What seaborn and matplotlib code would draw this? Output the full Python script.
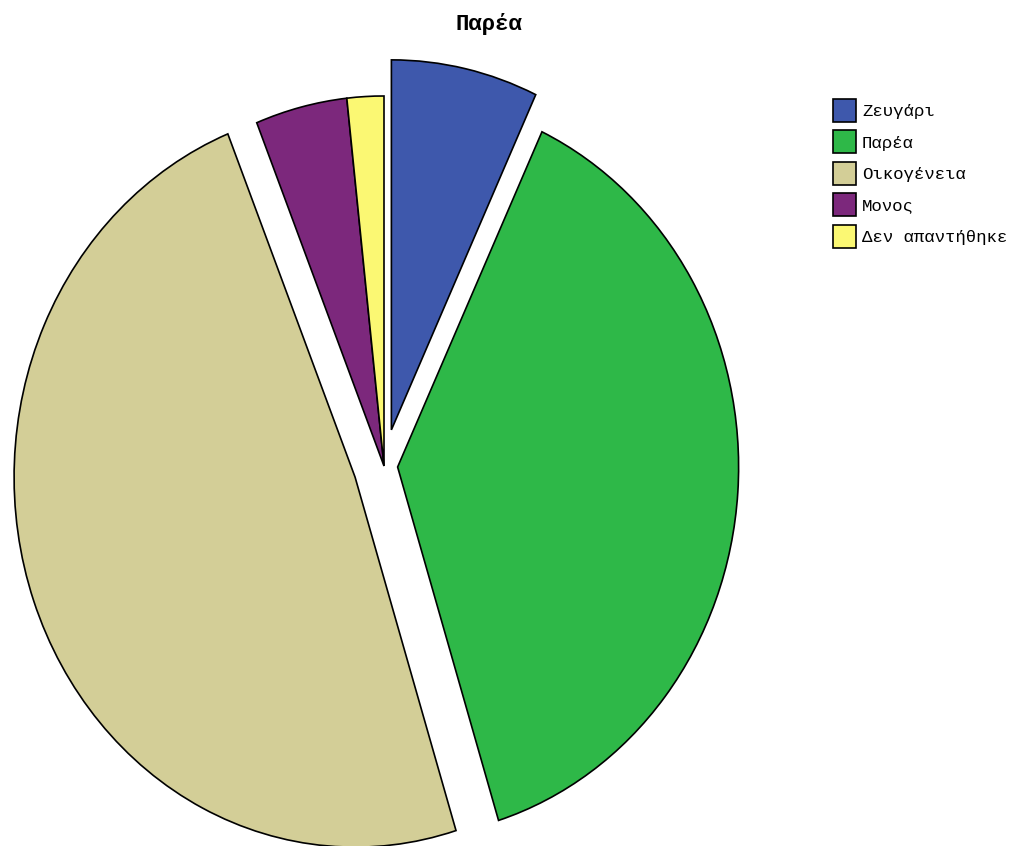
import matplotlib
matplotlib.use("Agg")
import matplotlib.pyplot as plt
import seaborn as sns

# Data
categories = ["Ζευγάρι", "Παρέα", "Οικογένεια", "Μονος", "Δεν απαντήθηκε"]
counts = [8, 44, 56, 5, 2]
colors = ["#3E58AC", "#2EB848", "#D3CE97", "#7C287C", "#FBF873"]
explode = [0.10, 0.04, 0.09, 0.0, 0.0]
title = "Παρέα"

sns.set_theme(style="white")
plt.rcParams['font.family'] = ['Liberation Mono', 'DejaVu Sans Mono', 'DejaVu Sans']
plt.rcParams['text.color'] = 'black'

W, H = 1021, 846
fig = plt.figure(figsize=(W / 100, H / 100), dpi=100)
ax = fig.add_axes([0, 0, 1, 1])

wedges, _ = ax.pie(
    counts, colors=sns.color_palette(colors), explode=explode,
    startangle=90, counterclock=False,
    wedgeprops=dict(edgecolor="black", linewidth=1.2),
)

# elliptical pie: x 341 px per unit, y 370 px per unit; centre at (384, 466) px
rx, ry = 341.0, 370.0
cx, cy = 384.0, 466.0
ax.set_aspect('auto')
ax.set_xlim(-cx / rx, (W - cx) / rx)
ax.set_ylim(-(H - cy) / ry, cy / ry)
ax.axis('off')

fig.text(489 / W, 1 - 24 / H, title, ha='center', va='center',
         fontsize=16, fontweight='bold', color='black')

leg = fig.legend(
    wedges, categories, loc='upper left',
    bbox_to_anchor=(833 / W, 1 - 99 / H), bbox_transform=fig.transFigure,
    frameon=False, fontsize=12.5, borderpad=0, borderaxespad=0,
    handlelength=1.325, handleheight=1.66, handletextpad=0.35, labelspacing=0.49,
)
for t in leg.get_texts():
    t.set_color('black')

fig.savefig("out.png", dpi=100)
